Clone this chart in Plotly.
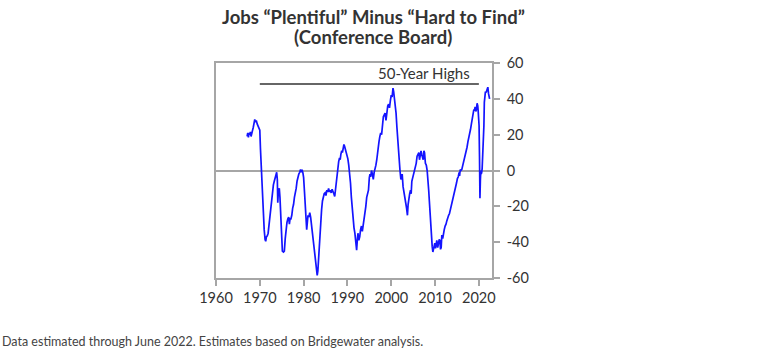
import plotly.graph_objects as go

years = [
    1967.1, 1967.25, 1967.4, 1967.55, 1967.7, 1967.85, 1968.0, 1968.15, 1968.3, 1968.5,
    1968.7, 1968.85, 1969.0, 1969.2, 1969.4, 1969.6, 1969.8, 1970.0, 1970.15, 1970.3,
    1970.45, 1970.6, 1970.8, 1971.0, 1971.2, 1971.35, 1971.5, 1971.7, 1971.9, 1972.1,
    1972.3, 1972.5, 1972.7, 1972.9, 1973.1, 1973.3, 1973.5, 1973.7, 1973.85, 1974.0,
    1974.1, 1974.25, 1974.45, 1974.6, 1974.8, 1975.0, 1975.15, 1975.4, 1975.6, 1975.8,
    1976.0, 1976.2, 1976.4, 1976.6, 1976.75, 1976.9, 1977.1, 1977.3, 1977.5, 1977.7,
    1977.9, 1978.1, 1978.3, 1978.5, 1978.7, 1978.9, 1979.1, 1979.3, 1979.5, 1979.65,
    1979.85, 1980.0, 1980.2, 1980.35, 1980.55, 1980.7, 1980.85, 1981.0, 1981.2, 1981.4,
    1981.6, 1981.8, 1982.0, 1982.2, 1982.4, 1982.6, 1982.8, 1983.0, 1983.1, 1983.25,
    1983.4, 1983.55, 1983.7, 1983.9, 1984.1, 1984.3, 1984.5, 1984.7, 1984.9, 1985.1,
    1985.3, 1985.5, 1985.7, 1985.9, 1986.1, 1986.3, 1986.5, 1986.7, 1986.9, 1987.1,
    1987.25, 1987.4, 1987.6, 1987.8, 1988.0, 1988.2, 1988.35, 1988.5, 1988.7, 1988.85,
    1989.0, 1989.2, 1989.35, 1989.5, 1989.7, 1989.9, 1990.1, 1990.3, 1990.5, 1990.7,
    1990.9, 1991.1, 1991.3, 1991.5, 1991.7, 1991.85, 1992.0, 1992.1, 1992.25, 1992.4,
    1992.6, 1992.8, 1993.0, 1993.2, 1993.4, 1993.6, 1993.8, 1994.0, 1994.2, 1994.4,
    1994.6, 1994.8, 1995.0, 1995.15, 1995.3, 1995.5, 1995.7, 1995.9, 1996.1, 1996.3,
    1996.5, 1996.7, 1996.85, 1997.0, 1997.2, 1997.4, 1997.6, 1997.8, 1998.0, 1998.2,
    1998.4, 1998.6, 1998.8, 1999.0, 1999.2, 1999.4, 1999.6, 1999.8, 2000.0, 2000.2,
    2000.4, 2000.55, 2000.7, 2000.9, 2001.1, 2001.3, 2001.5, 2001.7, 2001.85, 2002.0,
    2002.2, 2002.35, 2002.5, 2002.7, 2002.9, 2003.1, 2003.3, 2003.5, 2003.7, 2003.85,
    2004.0, 2004.2, 2004.4, 2004.55, 2004.7, 2004.9, 2005.1, 2005.3, 2005.5, 2005.7,
    2005.9, 2006.1, 2006.3, 2006.45, 2006.6, 2006.8, 2006.95, 2007.1, 2007.3, 2007.45,
    2007.6, 2007.8, 2008.0, 2008.2, 2008.4, 2008.55, 2008.7, 2008.85, 2009.0, 2009.2,
    2009.35, 2009.5, 2009.65, 2009.8, 2009.95, 2010.1, 2010.25, 2010.4, 2010.6, 2010.8,
    2010.95, 2011.1, 2011.25, 2011.4, 2011.55, 2011.75, 2011.9, 2012.1, 2012.3, 2012.5,
    2012.7, 2012.9, 2013.1, 2013.3, 2013.5, 2013.7, 2013.9, 2014.1, 2014.3, 2014.5,
    2014.7, 2014.9, 2015.1, 2015.3, 2015.5, 2015.6, 2015.75, 2015.9, 2016.1, 2016.3,
    2016.5, 2016.7, 2016.9, 2017.1, 2017.3, 2017.5, 2017.7, 2017.9, 2018.1, 2018.3,
    2018.5, 2018.7, 2018.85, 2019.0, 2019.15, 2019.3, 2019.45, 2019.6, 2019.75, 2019.85,
    2019.95, 2020.05, 2020.15, 2020.25, 2020.35, 2020.45, 2020.55, 2020.65, 2020.75, 2020.85,
    2020.95, 2021.05, 2021.15, 2021.25, 2021.35, 2021.5, 2021.65, 2021.8, 2021.95, 2022.05,
    2022.2, 2022.35, 2022.45,
]

values = [
    19, 21, 18.5, 21, 20, 21.5, 19, 21.5, 22, 24,
    27, 28.5, 27, 28, 26, 25, 23.5, 22.5, 12, 3,
    -6, -15, -25, -33, -38.5, -39.5, -37, -36.5, -35, -30,
    -25, -19, -14, -10, -8, -6, -4, -3, -1, -5,
    -18, -11, -10, -15, -28, -40, -45, -45.5, -45, -38,
    -31, -29, -27, -26, -30, -27, -27, -25, -21, -19,
    -15, -13, -10, -6, -3, -2, -1, 0.5, -1, 0.5,
    -1.5, -4, -12, -20, -30, -33, -29, -25, -26, -23.5,
    -26, -30, -35, -39, -44, -48, -53, -57, -58.5, -56,
    -50, -42, -34, -27, -22, -17, -14.5, -13, -12.5, -14,
    -11, -12, -10, -12, -11, -12.5, -10.5, -11.5, -13, -14.5,
    -11, -6, -3, 2, 5, 7, 6, 9, 11, 10,
    13, 14.5, 13.5, 12, 11, 8, 6.5, 3, -1, -7,
    -15, -22, -29, -32, -35, -40, -43.5, -44.5, -39, -35,
    -39, -37, -33, -31, -34, -31, -28, -25, -20, -15,
    -13, -11, -4, -2, -3.5, 0, -2, -5, -1, 0.5,
    3, 6, 10, 13, 16, 19, 21, 20, 26, 30,
    31, 32, 28, 33, 36, 37, 35, 39, 42, 41,
    46, 44, 41, 37, 32, 24, 16, 10, 4, 0,
    -5, -2, -2, -9, -13, -17, -18, -21, -25, -19,
    -15, -13, -11, -13, -6, -4, -2, -1, 0.5, 4,
    8, 9, 10, 6, 8, 11, 9, 7, 6, 11,
    10, 4, 3, 0, -5, -11, -17, -24, -33, -39,
    -42.5, -45.5, -44, -41, -40.5, -43.5, -41, -39, -43, -41,
    -38.5, -39, -44, -43, -36, -38, -35, -33, -31, -30,
    -28, -26, -25, -24, -22, -20, -18, -16.5, -14, -12.5,
    -9, -7, -4.5, -3.5, -1, -3, 0.5, 0, 0.5, 2.5,
    4, 6, 8, 10.5, 13, 16, 18, 20.5, 23, 26,
    29, 31.5, 34, 33.5, 35.5, 33, 34, 37.5, 36, 33,
    30, 25, 8, -15.5, -5, 0, -2, -1, 1, 6,
    8, 15, 25, 38, 43, 44, 43.5, 44.5, 45.5, 46.5,
    43, 41, 40,
]

highs_years = [1970, 2020]
highs_level = [48.3, 48.3]
highs_label = "50-Year Highs"

title_lines = ["Jobs “Plentiful” Minus “Hard to Find”", "(Conference Board)"]
footnote = "Data estimated through June 2022. Estimates based on Bridgewater analysis."

x_ticks = [1960, 1970, 1980, 1990, 2000, 2010, 2020]
y_ticks = [-60, -40, -20, 0, 20, 40, 60]

FONT = "Lato, 'Noto Sans', sans-serif"
GREY = "#a6a6a6"
TEXT = "#333333"

# plot-area geometry in pixels (for placing outside texts)
L, R, T, B = 216, 492, 63, 278
W, H = R - L, B - T


def px_x(px):
    return (px - L) / W


def px_y(py):
    return (B - py) / H


fig = go.Figure()
fig.add_trace(go.Scatter(
    x=years, y=values, mode="lines",
    line=dict(color="#1414ff", width=1.7),
    showlegend=False, hoverinfo="skip",
))
fig.add_trace(go.Scatter(
    x=highs_years, y=highs_level, mode="lines",
    line=dict(color="#333333", width=1.6),
    showlegend=False, hoverinfo="skip",
))

fig.add_annotation(
    x=2018.5, y=54.5, xref="x", yref="y", text=highs_label,
    showarrow=False, xanchor="right", yanchor="middle",
    font=dict(family=FONT, size=15, color=TEXT),
)

for i, (line, py) in enumerate(zip(title_lines, [17, 37])):
    fig.add_annotation(
        x=px_x(373), y=px_y(py), xref="paper", yref="paper",
        text=f"<b>{line}</b>", showarrow=False,
        xanchor="center", yanchor="middle",
        font=dict(family=FONT, size=18.5, color=TEXT),
    )

fig.add_annotation(
    x=px_x(0), y=px_y(341), xref="paper", yref="paper",
    text=footnote,
    showarrow=False, xanchor="left", yanchor="middle",
    font=dict(family=FONT, size=12.5, color="#444444"),
)

fig.update_layout(
    width=771, height=350,
    margin=dict(l=L, r=771 - R, t=T, b=350 - B),
    paper_bgcolor="white", plot_bgcolor="white",
    font=dict(family=FONT, size=14, color=TEXT),
)

fig.update_xaxes(
    range=[1960, 2023], tickvals=x_ticks, ticktext=[str(t) for t in x_ticks],
    showgrid=False, zeroline=False,
    showline=True, linecolor=GREY, linewidth=1.5, mirror=True,
    ticks="outside", ticklen=6, tickcolor=GREY, tickwidth=1.5,
    tickfont=dict(family=FONT, size=14.5, color=TEXT),
)
fig.update_yaxes(
    range=[-60, 60], tickvals=y_ticks, ticktext=[str(t) for t in y_ticks],
    side="right", showgrid=False,
    zeroline=True, zerolinecolor=GREY, zerolinewidth=1.5,
    showline=True, linecolor=GREY, linewidth=1.5, mirror=True,
    ticks="outside", ticklen=6, tickcolor=GREY, tickwidth=1.5,
    ticklabelstandoff=4,
    tickfont=dict(family=FONT, size=14.5, color=TEXT),
)

fig.write_html("out.html")
